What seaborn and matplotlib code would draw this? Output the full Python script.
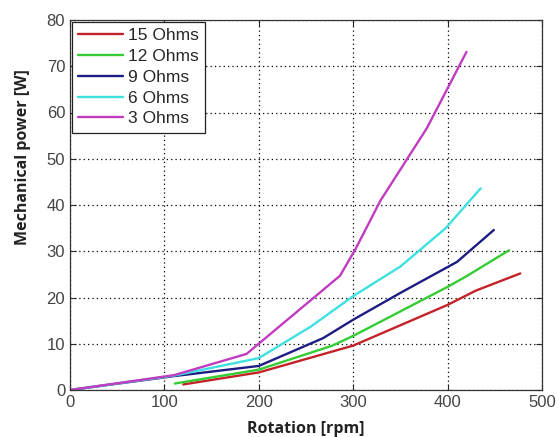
import numpy as np
import pandas as pd
import matplotlib
matplotlib.use("Agg")
import matplotlib.pyplot as plt
import seaborn as sns

# Valeurs (rpm, W)
rpm_15 = [120, 200, 300, 400, 430, 477]
pw_15 = [1.2, 3.8, 9.6, 18.4, 21.5, 25.2]

rpm_12 = [111, 200, 278, 300, 400, 420, 465]
pw_12 = [1.4, 4.4, 9.6, 11.7, 22.3, 24.6, 30.2]

rpm_9 = [0, 110, 200, 268, 300, 350, 410, 449]
pw_9 = [0, 3.0, 5.2, 11.2, 15.2, 21.0, 27.7, 34.6]

rpm_6 = [0, 110, 200, 255, 300, 350, 398, 435]
pw_6 = [0, 3.1, 6.9, 13.7, 20.3, 26.7, 35.0, 43.6]

rpm_3 = [0, 110, 187, 286, 302, 329, 378, 420]
pw_3 = [0, 3.2, 7.8, 24.7, 30.3, 41.0, 56.6, 73.1]

labels = ["15 Ohms", "12 Ohms", "9 Ohms", "6 Ohms", "3 Ohms"]
colors = ["#c42228", "#33cc33", "#1c1c84", "#3ee0e0", "#c03cc0"]

series = [(rpm_15, pw_15), (rpm_12, pw_12), (rpm_9, pw_9), (rpm_6, pw_6), (rpm_3, pw_3)]
df = pd.concat([pd.DataFrame({"rpm": r, "W": w, "R": lab})
                for (r, w), lab in zip(series, labels)], ignore_index=True)

sns.set_style("ticks")
plt.rcParams["font.family"] = ["Liberation Sans", "DejaVu Sans"]

fig = plt.figure(figsize=(5.58, 4.37), dpi=100)
ax = fig.add_axes([70 / 558, 1 - 390 / 437, 472 / 558, 370 / 437])

sns.lineplot(data=df, x="rpm", y="W", hue="R", hue_order=labels,
             palette=dict(zip(labels, colors)), sort=False, estimator=None,
             linewidth=1.7, ax=ax)

ax.set_xlim(0, 500)
ax.set_ylim(0, 80)
ax.set_xticks(np.arange(0, 501, 100))
ax.set_yticks(np.arange(0, 81, 10))
ax.grid(True, linestyle=(0, (1, 2.5)), color="black", linewidth=0.9)
ax.tick_params(direction="in", length=4, top=True, right=True,
               labelsize=12, labelcolor="#444444", width=0.8)
for s in ax.spines.values():
    s.set_visible(True)
    s.set_color("#333333")
    s.set_linewidth(0.9)

ax.set_xlabel("Rotation [rpm]", fontsize=11.5, fontweight="bold",
              family=["Open Sans", "DejaVu Sans"], color="#222222")
ax.set_ylabel("Mechanical power [W]", fontsize=11.5, fontweight="bold",
              family=["Open Sans", "DejaVu Sans"], color="#222222")
ax.xaxis.set_label_coords(0.5, -0.085)
ax.yaxis.set_label_coords(-0.083, 0.63)

leg = ax.legend(loc="upper left", bbox_to_anchor=(0.0, 1.0), borderaxespad=0.1,
                fontsize=12.5, frameon=True, fancybox=False, handlelength=2.6,
                handletextpad=0.3, labelspacing=0.33, borderpad=0.35)
leg.get_frame().set_edgecolor("#222222")
leg.get_frame().set_linewidth(0.9)
leg.get_frame().set_alpha(1)

fig.savefig("out.png", dpi=100)
